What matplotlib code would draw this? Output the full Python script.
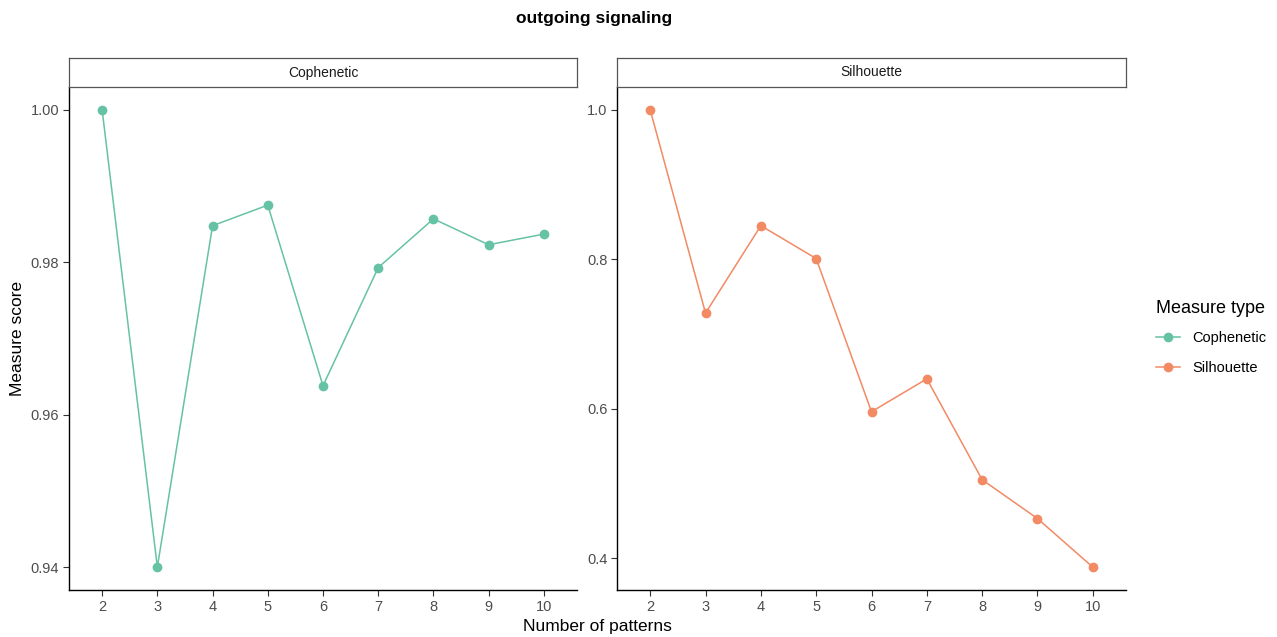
import matplotlib.pyplot as plt
from matplotlib.lines import Line2D

plt.rcParams["font.family"] = ["Liberation Sans", "DejaVu Sans"]

patterns = [2, 3, 4, 5, 6, 7, 8, 9, 10]
cophenetic = [1.000, 0.940, 0.9848, 0.9875, 0.9638, 0.9793, 0.9857, 0.9823, 0.9837]
silhouette = [1.000, 0.728, 0.845, 0.801, 0.596, 0.640, 0.505, 0.453, 0.388]
measure_types = ["Cophenetic", "Silhouette"]
colors = ["#66C2A5", "#F28A64"]

fig = plt.figure(figsize=(12.77, 6.37), dpi=100)
W, H = 1277, 637


def px_axes(x0, y0, x1, y1):
    return fig.add_axes([x0 / W, 1 - y1 / H, (x1 - x0) / W, (y1 - y0) / H])


panels = [
    (69, 577, cophenetic, [0.94, 0.96, 0.98, 1.00], "{:.2f}"),
    (617, 1126, silhouette, [0.4, 0.6, 0.8, 1.0], "{:.1f}"),
]

for (x0, x1, vals, yt, fmt), name, col in zip(panels, measure_types, colors):
    ax = px_axes(x0, 87, x1, 590)
    ax.plot(patterns, vals, color=col, lw=1.1, marker="o", ms=6, zorder=3)
    ax.set_xlim(1.4, 10.6)
    lo, hi = min(vals), max(vals)
    pad = (hi - lo) * 0.05
    ax.set_ylim(lo - pad, hi + pad)
    ax.set_xticks(patterns)
    ax.set_yticks(yt)
    ax.set_yticklabels([fmt.format(v) for v in yt])
    for s in ["top", "right"]:
        ax.spines[s].set_visible(False)
    for s in ["left", "bottom"]:
        ax.spines[s].set_color("black")
        ax.spines[s].set_linewidth(1.0)
    ax.tick_params(direction="out", length=4, width=0.8, color="#333333",
                   labelcolor="#4d4d4d", labelsize=10.5, pad=3)

    # facet strip
    st = px_axes(x0, 58, x1, 87)
    st.set_xticks([])
    st.set_yticks([])
    for s in st.spines.values():
        s.set_color("#555555")
        s.set_linewidth(0.9)
    st.text(0.5, 0.5, name, ha="center", va="center", fontsize=10, color="#1a1a1a")

fig.text(594 / W, 1 - 19 / H, "outgoing signaling", ha="center", va="center",
         fontsize=12.5, fontweight="bold")
fig.text(597 / W, 1 - 626 / H, "Number of patterns", ha="center", va="center",
         fontsize=12.5)
fig.text(18 / W, 1 - 338 / H, "Measure score", ha="center", va="center",
         fontsize=12.5, rotation=90)

handles = [Line2D([0], [0], color=c, lw=1.1, marker="o", ms=6) for c in colors]
leg = fig.legend(handles, measure_types, title="Measure type", loc="upper left",
                 bbox_to_anchor=(1143 / W, 1 - 287 / H), frameon=False,
                 fontsize=10.5, title_fontsize=13, handlelength=1.65,
                 handletextpad=0.8, labelspacing=1.1, alignment="left")
leg._legend_box.sep = 10

fig.savefig("out.png", dpi=100)
